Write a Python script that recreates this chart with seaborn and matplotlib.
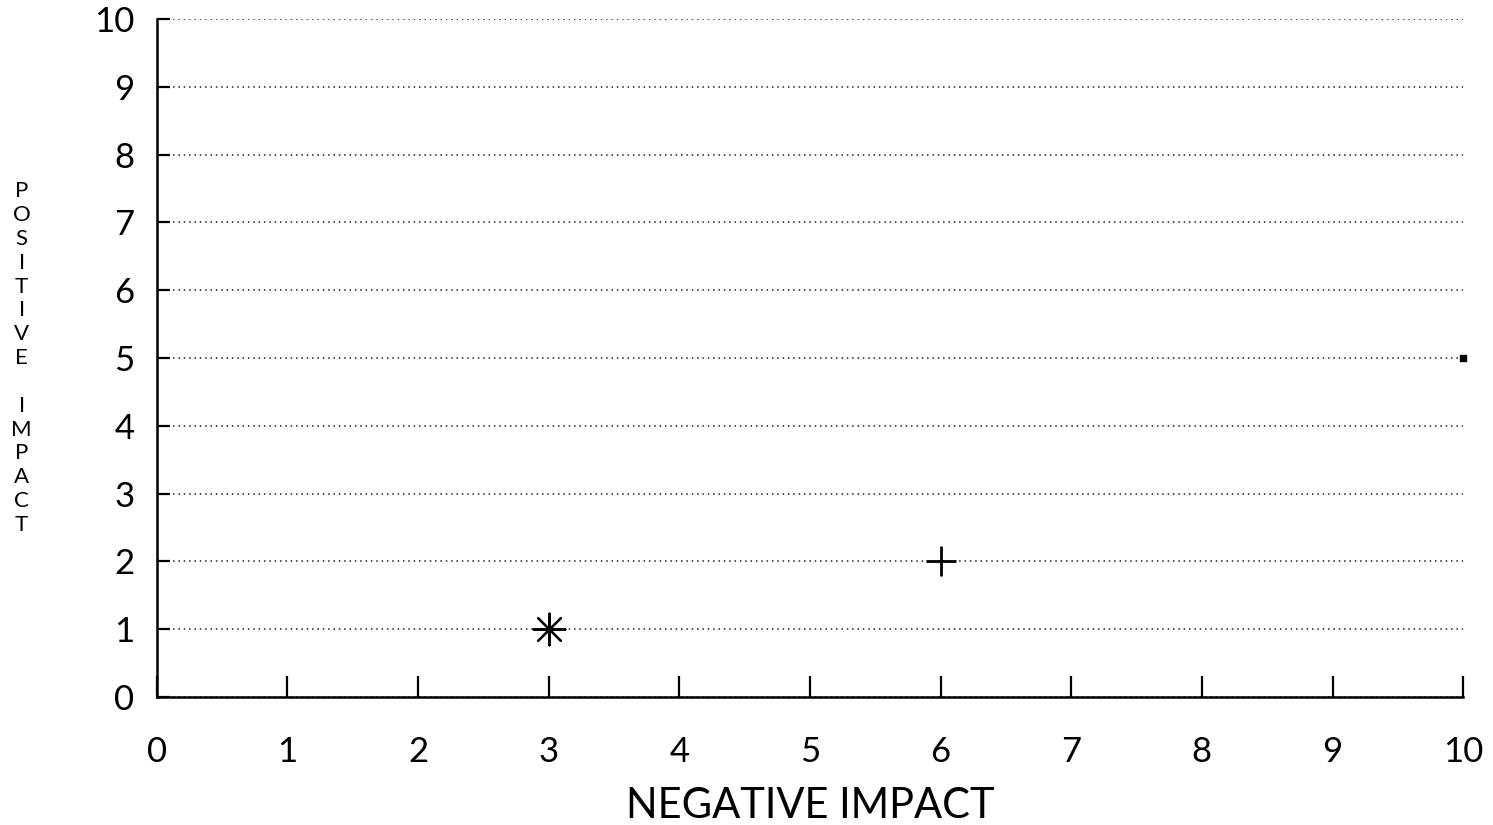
import matplotlib
matplotlib.use("Agg")
import matplotlib.pyplot as plt
import seaborn as sns
import pandas as pd

# Impact scores of the three items
neg_impact = [3, 6, 10]
pos_impact = [1, 2, 5]
item = ["A", "B", "C"]
x_ticks = list(range(0, 11))
y_ticks = list(range(0, 11))

sns.set_style("ticks")
plt.rcParams["font.family"] = ["Lato", "DejaVu Sans"]
plt.rcParams["text.color"] = "black"

df = pd.DataFrame({"neg": neg_impact, "pos": pos_impact, "item": item})

fig = plt.figure(figsize=(14.93, 8.25), dpi=100)
ax = fig.add_axes([0.105, 0.155, 0.875, 0.822])

# one marker style per item
marker_style = {"A": ((8, 2, 0), 520, 1.6), "B": ("+", 480, 2.0), "C": ("s", 20, 1.0)}
for key, (mk, size, lw) in marker_style.items():
    sub = df[df["item"] == key]
    sns.scatterplot(data=sub, x="neg", y="pos", marker=mk, s=size,
                    color="black", edgecolor="black", linewidth=lw,
                    legend=False, ax=ax, zorder=3, clip_on=False)

ax.set_xlim(0, 10)
ax.set_ylim(0, 10)
ax.set_xticks(x_ticks)
ax.set_yticks(y_ticks)
ax.tick_params(axis="x", direction="in", length=15, width=1.6, pad=28,
               labelsize=25, colors="black", labelcolor="black")
ax.tick_params(axis="y", direction="in", length=9, width=1.6, pad=16,
               labelsize=25, colors="black", labelcolor="black")

ax.grid(axis="y", linestyle=(0, (1, 2.5)), linewidth=1.1, color="#222222")
ax.grid(axis="x", visible=False)
sns.despine(ax=ax, top=True, right=True)
ax.spines["left"].set_linewidth(1.8)
ax.spines["bottom"].set_linewidth(1.8)
ax.spines["left"].set_color("black")
ax.spines["bottom"].set_color("black")

ax.set_xlabel("NEGATIVE IMPACT", fontsize=30, color="black", labelpad=14)
ax.set_ylabel("")
fig.text(0.0145, 0.566, "\n".join("POSITIVE IMPACT"),
         ha="center", va="center", fontsize=16, color="black",
         linespacing=1.24)

fig.savefig("out.png", dpi=100, facecolor="white")
